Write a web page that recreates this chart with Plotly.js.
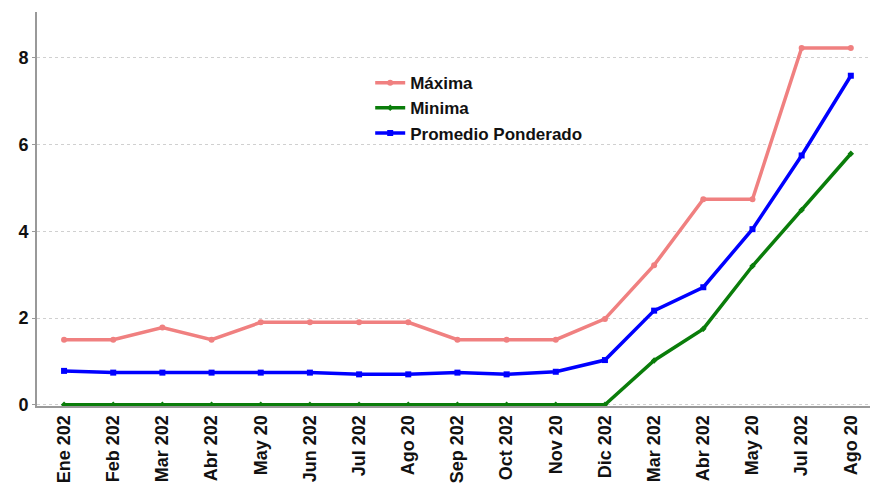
<!DOCTYPE html>
<html><head><meta charset="utf-8">
<script src="https://cdn.plot.ly/plotly-3.0.1.min.js"></script>
<style>html,body{margin:0;padding:0;background:#fff}#chart{width:870px;height:493px}</style>
</head><body><div id="chart"></div>
<script>
const tickLabels = ["Ene 202","Feb 202","Mar 202","Abr 202","May 20","Jun 202","Jul 202","Ago 20","Sep 202","Oct 202","Nov 20","Dic 202","Mar 202","Abr 202","May 20","Jul 202","Ago 20"];
const maxima =   [1.5,1.5,1.78,1.5,1.9,1.9,1.9,1.9,1.5,1.5,1.5,1.98,3.22,4.74,4.74,8.23,8.23];
const minima =   [0,0,0,0,0,0,0,0,0,0,0,0,1.02,1.75,3.2,4.49,5.79];
const promedio = [0.78,0.74,0.74,0.74,0.74,0.74,0.70,0.70,0.74,0.70,0.76,1.03,2.17,2.71,4.05,5.75,7.59];
const xIdx = tickLabels.map((_, i) => i);

const font = {family: "Liberation Sans, Arial, sans-serif", color: "#111"};
const traces = [
  {x: xIdx, y: maxima, name: "<b>Máxima</b>", mode: "lines+markers",
   line: {color: "#f08080", width: 3.5}, marker: {symbol: "circle", size: 6, color: "#f08080"}},
  {x: xIdx, y: minima, name: "<b>Minima</b>", mode: "lines+markers",
   line: {color: "#0a7d0a", width: 3.5}, marker: {symbol: "diamond", size: 5, color: "#0a7d0a"}},
  {x: xIdx, y: promedio, name: "<b>Promedio Ponderado</b>", mode: "lines+markers",
   line: {color: "#0000ff", width: 3.5}, marker: {symbol: "square", size: 6, color: "#0000ff"}}
];
const layout = {
  width: 870, height: 493,
  margin: {l: 37, r: 0, t: 12, b: 87},
  paper_bgcolor: "#fff", plot_bgcolor: "#fff",
  showlegend: true,
  legend: {x: 0.40, y: 0.865, xanchor: "left", yanchor: "top", bgcolor: "rgba(0,0,0,0)",
           font: Object.assign({}, font, {size: 17}), tracegroupgap: 0, itemwidth: 30},
  xaxis: {range: [-0.55, 16.39], tickmode: "array", tickvals: xIdx,
          ticktext: tickLabels.map(t => "<b>" + t + "</b>"), tickangle: -90,
          showgrid: false, zeroline: false, showline: true, linecolor: "#999", linewidth: 2,
          ticks: "", tickfont: Object.assign({}, font, {size: 18}), fixedrange: true},
  yaxis: {range: [-0.03, 9.06], tickmode: "array", tickvals: [0,2,4,6,8],
          ticktext: ["<b>0</b>","<b>2</b>","<b>4</b>","<b>6</b>","<b>8</b>"],
          showgrid: true, gridcolor: "#d0d0d0", griddash: "dot", gridwidth: 1,
          zeroline: false, showline: true, linecolor: "#999", linewidth: 2,
          ticks: "outside", ticklen: 3, tickcolor: "#999",
          tickfont: Object.assign({}, font, {size: 18}), fixedrange: true}
};
Plotly.newPlot("chart", traces, layout, {displayModeBar: false, staticPlot: true});
</script></body></html>
